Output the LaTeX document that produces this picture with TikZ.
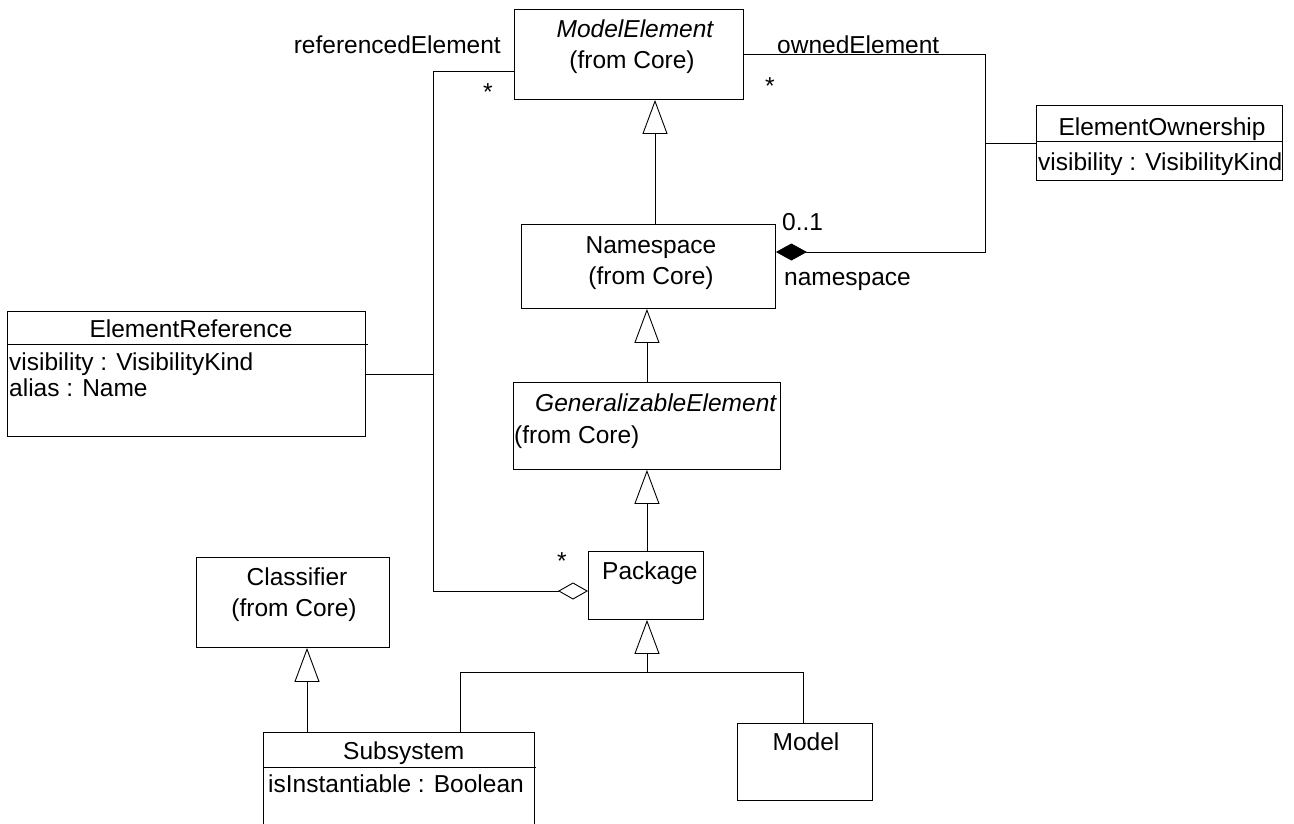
\documentclass[tikz,border=0pt]{standalone}
\usepackage{fontspec}
\setmainfont{Liberation Sans}
\usetikzlibrary{arrows.meta,calc}

\tikzset{
  cls/.style={draw, rectangle, anchor=north west, inner sep=0pt, line width=0.9pt},
  lbl/.style={inner sep=0pt, anchor=base},
  lbll/.style={inner sep=0pt, anchor=base west},
  gen/.style={-{Triangle[open,length=34pt,width=25pt]}, line width=0.9pt},
  comp/.style={-{Diamond[length=31pt,width=17pt]}, line width=0.9pt},
  aggr/.style={-{Diamond[open,length=30pt,width=17pt]}, line width=0.9pt},
  assoc/.style={line width=0.9pt},
}

\begin{document}
\begin{tikzpicture}[x=1pt, y=-1pt, font=\fontsize{24.5}{28}\selectfont]
\useasboundingbox (0,0) rectangle (1294,823);

% draw classes
\node[cls, minimum width=229, minimum height=90]  (modelelem)  at (514,9)   {};
\node[cls, minimum width=254, minimum height=84]  (namespace)  at (521,224) {};
\node[cls, minimum width=267, minimum height=87]  (genelem)    at (513,382) {};
\node[cls, minimum width=115, minimum height=68]  (package)    at (588,551) {};
\node[cls, minimum width=193, minimum height=90]  (classifier) at (196,557) {};
\node[cls, minimum width=271, minimum height=120] (subsystem)  at (263,732) {};
\node[cls, minimum width=135, minimum height=77]  (model)      at (737,723) {};
\node[cls, minimum width=358, minimum height=125] (elemref)    at (7,311)   {};
\node[cls, minimum width=246, minimum height=75]  (elemown)    at (1036,105) {};

% compartments
\draw[assoc] ($(elemref.north west)+(0,33)$) -- ($(elemref.north east)+(2,33)$);
\draw[assoc] ($(elemown.north west)+(0,36)$) -- ($(elemown.north east)+(0,36)$);
\draw[assoc] ($(subsystem.north west)+(0,35)$) -- ($(subsystem.north east)+(1,35)$);

% class texts
\node[lbl]  (me-name) at (635,37)  {\itshape ModelElement};
\node[lbl]  (me-from) at (632,68)  {(from Core)};
\node[lbl]  (ns-name) at (651,253) {Namespace};
\node[lbl]  (ns-from) at (651,284) {(from Core)};
\node[lbll] (ge-name) at (535,411) {\itshape GeneralizableElement};
\node[lbll] (ge-from) at (514,443) {(from Core)};
\node[lbll] (pk-name) at (602,579) {Package};
\node[lbl]  (cl-name) at (297,585) {Classifier};
\node[lbl]  (cl-from) at (294,616) {(from Core)};
\node[lbll] (ss-name) at (343,759) {Subsystem};
\node[lbll] (ss-attr) at (268,792) {isInstantiable : Boolean};
\node[lbl]  (md-name) at (806,750) {Model};
\node[lbl]  (er-name) at (191,337) {ElementReference};
\node[lbll] (er-vis)  at (9,370)   {visibility : VisibilityKind};
\node[lbll] (er-alias) at (9,396)  {alias : Name};
\node[lbl]  (eo-name) at (1162,135) {ElementOwnership};
\node[lbll] (eo-vis)  at (1038,170) {visibility : VisibilityKind};

% bend points
\coordinate (g1)   at (655,0);
\coordinate (g2)   at (307,0);
\coordinate (fork) at (647,672);
\coordinate (fl)   at (460,0);
\coordinate (fr)   at (803,0);
\coordinate (own)  at (985,54);
\coordinate (ref)  at (433,71);
\coordinate (nsy)  at (0,252);
\coordinate (pky)  at (0,591);

% generalizations
\draw[gen] (g1 |- namespace.north) -- (g1 |- modelelem.south);
\draw[gen] (genelem.north) -- (genelem.north |- namespace.south);
\draw[gen] (package.north -| genelem.south) -- (genelem.south);
\draw[gen] (fork) -- (fork |- package.south);
\draw[assoc] (fl |- subsystem.north) -- (fl |- fork) -- (fr |- fork) -- (fr |- model.north);
\draw[gen] (g2 |- subsystem.north) -- (g2 |- classifier.south);

% ownedElement / namespace
\draw[comp] (modelelem.east |- own) -- (own) -- (own |- nsy) -- (namespace.east |- nsy);
\draw[assoc] (own |- elemown.west) -- (elemown.west);
\node[lbll] (own-role) at (777,53)  {ownedElement};
\node[lbl]  (own-mult) at (770,94)  {*};
\node[lbll] (ns-mult)  at (782,230) {0..1};
\node[lbll] (ns-role)  at (784,285) {namespace};

% referencedElement / package
\draw[aggr] (modelelem.west |- ref) -- (ref) -- (ref |- pky) -- (package.west |- pky);
\draw[assoc] (elemref.east |- 0,374) -- (ref |- 0,374);
\node[anchor=base east, inner sep=0pt] (ref-role) at (501,53) {referencedElement};
\node[lbl] (ref-mult) at (488,100) {*};
\node[lbl] (pk-mult)  at (562,569) {*};

\end{tikzpicture}
\end{document}
